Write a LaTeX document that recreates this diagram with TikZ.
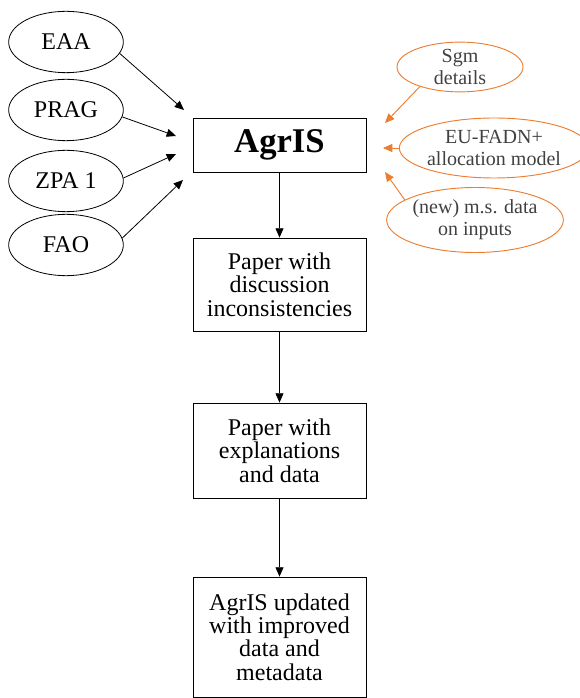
\documentclass[tikz,border=0pt]{standalone}
\usepackage{fontspec}
\setmainfont{Liberation Serif}
\usetikzlibrary{arrows.meta,shapes.geometric}
\definecolor{accent}{RGB}{237,125,49}
\definecolor{softtext}{RGB}{64,64,64}

\begin{document}
\begin{tikzpicture}[x=0.75pt,y=-0.75pt,
  src/.style={draw=black,line width=0.6pt,ellipse,inner sep=0pt,
    minimum width=86pt,minimum height=46pt,font=\fontsize{18}{18}\selectfont},
  extra/.style={draw=accent,line width=0.7pt,ellipse,inner sep=0pt,
    text=softtext,align=center,font=\fontsize{15}{16.3}\selectfont},
  stage/.style={draw=black,line width=0.6pt,rectangle,inner sep=0pt,
    minimum width=129.75pt,align=center,font=\fontsize{18}{17.6}\selectfont},
  feed/.style={-{Triangle[length=7pt,width=6pt]},line width=0.6pt},
  feedo/.style={feed,draw=accent,line width=0.7pt}
]
\useasboundingbox (0,0) rectangle (579,698);

% data sources
\node[src] (eaa)  at (66,42)  {EAA};
\node[src] (prag) at (66,110) {PRAG};
\node[src] (zpa)  at (66,181) {ZPA 1};
\node[src] (fao)  at (66,245) {FAO};

% additional inputs
\node[extra,minimum width=94.5pt,minimum height=35pt] (sgm) at (460,67) {Sgm\\details};
\node[extra,minimum width=126pt,minimum height=45pt] (eu) at (494,148) {EU-FADN+\\allocation model};
\node[extra,minimum width=124.5pt,minimum height=48.75pt] (msd) at (475,220) {(new) m.s. data\\on inputs};

% process chain
\node[stage,minimum height=40.5pt,font=\fontsize{26}{26}\selectfont\bfseries] (agris) at (279.5,145) {AgrIS};
\node[stage,minimum height=69.75pt] (p1) at (279.5,284.5) {Paper with\\discussion\\inconsistencies};
\node[stage,minimum height=71.25pt] (p2) at (279.5,450.5) {Paper with\\explanations\\and data};
\node[stage,minimum height=90pt] (p3) at (279.5,637) {AgrIS updated\\with improved\\data and\\metadata};

% arrow ends next to the AgrIS box
\coordinate (in1) at (184,110);
\coordinate (in2) at (176,136);
\coordinate (in3) at (176,154);
\coordinate (in4) at (183,180);
\coordinate (o1) at (385,123);
\coordinate (o2) at (383,148);
\coordinate (o3) at (385,172);

\draw[feed] (eaa.-12) -- (in1);
\draw[feed] (prag.-7) -- (in2);
\draw[feed] (zpa.3) -- (in3);
\draw[feed] (fao.7) -- (in4);

\draw[feedo] (sgm.206) -- (o1);
\draw[feedo] (eu.180) -- (o2);
\draw[feedo] (msd.164) -- (o3);

\draw[feed] (agris) -- (p1);
\draw[feed] (p1) -- (p2);
\draw[feed] (p2) -- (p3);
\end{tikzpicture}
\end{document}
